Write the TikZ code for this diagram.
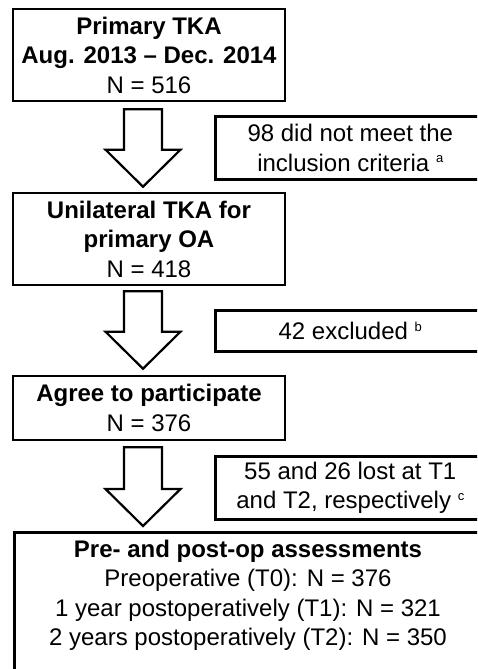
\documentclass[tikz,border=0pt]{standalone}
\usepackage{fontspec}
\setmainfont{Liberation Sans}
\usetikzlibrary{calc}
\newcommand\supmk[1]{\raisebox{8.5pt}{\fontsize{13}{13}\selectfont #1}}
\newcommand\blkarrow[2]{%
  \draw[bigarrow] let \p1=(#1), \p2=(#2) in
    (\x1-19pt,\y1) -- (\x1+19pt,\y1) -- (\x1+19pt,\y2+37pt) -- (\x1+37.5pt,\y2+37pt)
    -- (\x1,\y2) -- (\x1-37.5pt,\y2+37pt) -- (\x1-19pt,\y2+37pt) -- cycle;}
\begin{document}
\begin{tikzpicture}[x=1pt,y=-1pt,
  box/.style={draw, line width=2.6pt, inner sep=0pt, align=center,
    font=\fontsize{24}{29.5}\selectfont},
  txt/.style={inner sep=0pt, align=center, font=\fontsize{24}{29.5}\selectfont},
  bigarrow/.style={draw, line width=2.2pt, line join=miter, fill=white}]
\useasboundingbox (0,0) rectangle (477,669);
\clip (0,0) rectangle (477,669);
% main boxes
\node[box, minimum width=272pt, minimum height=92pt] (b1) at (149,55)
  {\textbf{Primary TKA}\\\textbf{Aug. 2013 -- Dec. 2014}\\N = 516};
\node[box, minimum width=272pt, minimum height=92pt] (b2) at (149,239)
  {\textbf{Unilateral TKA for}\\\textbf{primary OA}\\N = 418};
\node[box, minimum width=272pt, minimum height=64pt] (b3) at (149,408)
  {\textbf{Agree to participate}\\N = 376};
\node[box, minimum width=470pt, minimum height=170pt, anchor=north west] (b4) at (13,531) {};
\node[txt, anchor=north] (t4) at (248,539.5)
  {\textbf{Pre- and post-op assessments}\\Preoperative (T0): N = 376\\1 year postoperatively (T1): N = 321\\2 years postoperatively (T2): N = 350};
% side boxes
\node[box, minimum width=270pt, minimum height=63pt, anchor=north west] (s1) at (214,115)
  {98 did not meet the\\inclusion criteria \supmk{a}};
\node[box, minimum width=270pt, minimum height=41pt, anchor=north west] (s2) at (214,309)
  {42 excluded \supmk{b}};
\node[box, minimum width=270pt, minimum height=63pt, anchor=north west] (s3) at (214,455)
  {55 and 26 lost at T1\\and T2, respectively \supmk{c}};
% block arrows
\coordinate (a1s) at ([xshift=-6pt,yshift=-7pt]b1.south);
\coordinate (a1e) at ([xshift=-6pt,yshift=5pt]b2.north);
\coordinate (a2s) at ([xshift=-6pt,yshift=-5pt]b2.south);
\coordinate (a2e) at ([xshift=-6pt,yshift=6pt]b3.north);
\coordinate (a3s) at ([xshift=-6pt,yshift=-6pt]b3.south);
\coordinate (a3e) at ([yshift=5pt]b4.north west -| a3s);
\blkarrow{a1s}{a1e}
\blkarrow{a2s}{a2e}
\blkarrow{a3s}{a3e}
\end{tikzpicture}
\end{document}
